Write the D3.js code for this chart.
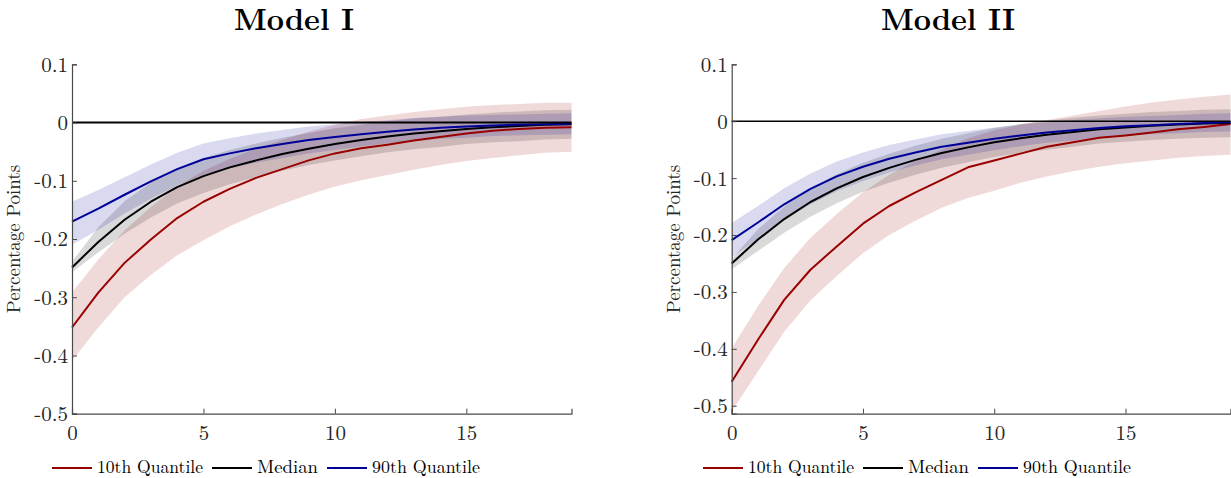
<!DOCTYPE html>
<html><head><meta charset="utf-8">
<script src="https://cdn.jsdelivr.net/npm/d3@7"></script>
<style>
body{margin:0;background:#fff}svg{display:block}
.cm{font-family:"Latin Modern Roman","Liberation Serif",serif;}
.ttl{font-family:"Latin Modern Roman","DejaVu Serif",serif;font-weight:bold;}
</style>
</head><body>
<svg id="chart" width="1231" height="478"></svg>
<script>
// ---- data ----
const horizons = d3.range(0, 20);
const panelTitles = ["Model I", "Model II"];
const yTicks = [0.1, 0, -0.1, -0.2, -0.3, -0.4, -0.5];
const yTickLabels = ["0.1", "0", "-0.1", "-0.2", "-0.3", "-0.4", "-0.5"];
const xTicks = [0, 5, 10, 15];
const xTickLabels = ["0", "5", "10", "15"];
const yDomainI = [-0.5, 0.1];
const yDomainII = [-0.514, 0.1];
const legendLabels = ["10th Quantile", "Median", "90th Quantile"];
const yLabel = "Percentage Points";

// Model I
const q10_I   = [-0.352,-0.292,-0.241,-0.201,-0.164,-0.136,-0.114,-0.095,-0.080,-0.065,-0.053,-0.044,-0.038,-0.031,-0.025,-0.019,-0.014,-0.011,-0.009,-0.008];
const q10Up_I = [-0.292,-0.235,-0.185,-0.145,-0.110,-0.083,-0.062,-0.045,-0.030,-0.016,-0.004,0.006,0.012,0.018,0.023,0.027,0.030,0.032,0.034,0.034];
const q10Lo_I = [-0.409,-0.352,-0.300,-0.262,-0.228,-0.202,-0.178,-0.158,-0.140,-0.124,-0.110,-0.099,-0.090,-0.081,-0.073,-0.066,-0.061,-0.056,-0.052,-0.050];
const med_I   = [-0.249,-0.205,-0.167,-0.136,-0.111,-0.092,-0.077,-0.065,-0.054,-0.045,-0.037,-0.030,-0.024,-0.019,-0.015,-0.011,-0.008,-0.006,-0.004,-0.003];
const medUp_I = [-0.239,-0.180,-0.135,-0.103,-0.079,-0.061,-0.047,-0.036,-0.026,-0.018,-0.010,-0.004,0.002,0.007,0.010,0.014,0.017,0.019,0.021,0.022];
const medLo_I = [-0.257,-0.223,-0.191,-0.163,-0.139,-0.121,-0.106,-0.094,-0.083,-0.073,-0.065,-0.058,-0.051,-0.046,-0.042,-0.037,-0.034,-0.032,-0.029,-0.028];
const q90_I   = [-0.170,-0.148,-0.124,-0.101,-0.080,-0.063,-0.053,-0.044,-0.037,-0.030,-0.025,-0.020,-0.016,-0.012,-0.009,-0.007,-0.005,-0.004,-0.003,-0.002];
const q90Up_I = [-0.136,-0.116,-0.094,-0.072,-0.052,-0.036,-0.027,-0.019,-0.013,-0.007,-0.003,0.001,0.004,0.008,0.010,0.012,0.013,0.014,0.015,0.016];
const q90Lo_I = [-0.210,-0.184,-0.156,-0.131,-0.108,-0.090,-0.079,-0.069,-0.061,-0.053,-0.047,-0.041,-0.036,-0.032,-0.028,-0.026,-0.023,-0.022,-0.021,-0.020];

// Model II
const q10_II   = [-0.458,-0.384,-0.314,-0.261,-0.220,-0.180,-0.149,-0.125,-0.103,-0.081,-0.069,-0.057,-0.045,-0.037,-0.029,-0.025,-0.020,-0.014,-0.010,-0.005];
const q10Up_II = [-0.399,-0.325,-0.258,-0.205,-0.163,-0.125,-0.094,-0.070,-0.050,-0.030,-0.016,-0.006,0.002,0.010,0.018,0.026,0.033,0.038,0.043,0.047];
const q10Lo_II = [-0.510,-0.440,-0.370,-0.315,-0.272,-0.232,-0.200,-0.175,-0.152,-0.135,-0.122,-0.108,-0.097,-0.088,-0.080,-0.074,-0.069,-0.064,-0.061,-0.059];
const med_II   = [-0.250,-0.208,-0.172,-0.142,-0.118,-0.098,-0.082,-0.068,-0.056,-0.046,-0.037,-0.030,-0.024,-0.019,-0.014,-0.011,-0.008,-0.006,-0.004,-0.003];
const medUp_II = [-0.242,-0.190,-0.150,-0.118,-0.093,-0.073,-0.057,-0.043,-0.031,-0.021,-0.012,-0.005,0.001,0.006,0.010,0.013,0.016,0.018,0.020,0.021];
const medLo_II = [-0.260,-0.228,-0.196,-0.168,-0.144,-0.124,-0.108,-0.094,-0.082,-0.072,-0.063,-0.056,-0.050,-0.045,-0.039,-0.036,-0.033,-0.031,-0.029,-0.028];
const q90_II   = [-0.209,-0.178,-0.146,-0.119,-0.097,-0.080,-0.066,-0.055,-0.045,-0.038,-0.031,-0.025,-0.020,-0.016,-0.012,-0.009,-0.007,-0.005,-0.003,-0.002];
const q90Up_II = [-0.179,-0.149,-0.118,-0.092,-0.071,-0.055,-0.042,-0.032,-0.023,-0.017,-0.011,-0.006,-0.002,0.002,0.005,0.008,0.009,0.011,0.013,0.014];
const q90Lo_II = [-0.239,-0.207,-0.174,-0.146,-0.123,-0.105,-0.090,-0.078,-0.067,-0.059,-0.051,-0.044,-0.038,-0.034,-0.029,-0.026,-0.023,-0.021,-0.019,-0.018];

// ---- styles ----
const colors = ["#990000", "#000000", "#000099"];

const panels = [
  { title: panelTitles[0], yDomain: yDomainI, left: 72, right: 571.5, titleX: 294, zeroW: 2,
    series: [[q10_I,q10Lo_I,q10Up_I],[med_I,medLo_I,medUp_I],[q90_I,q90Lo_I,q90Up_I]], legendX: 52 },
  { title: panelTitles[1], yDomain: yDomainII, left: 731.7, right: 1230.5, titleX: 948, zeroW: 1.5,
    series: [[q10_II,q10Lo_II,q10Up_II],[med_II,medLo_II,medUp_II],[q90_II,q90Lo_II,q90Up_II]], legendX: 703 }
];
const plotTop = 64.3, plotBottom = 413.7;
const svg = d3.select("#chart");

panels.forEach(p => {
  const x = d3.scaleLinear().domain([0, 19]).range([p.left, p.right]);
  const y = d3.scaleLinear().domain(p.yDomain).range([plotBottom, plotTop]);
  const g = svg.append("g");

  // bands
  p.series.forEach((s, i) => {
    const area = d3.area().x((d, j) => x(horizons[j])).y0((d, j) => y(s[1][j])).y1((d, j) => y(s[2][j]));
    g.append("path").datum(s[0]).attr("d", area)
      .attr("fill", colors[i]).attr("fill-opacity", 0.15).attr("stroke", "none");
  });
  // lines
  p.series.forEach((s, i) => {
    const line = d3.line().x((d, j) => x(horizons[j])).y(d => y(d));
    g.append("path").datum(s[0]).attr("d", line)
      .attr("fill", "none").attr("stroke", colors[i]).attr("stroke-width", 2).attr("stroke-linejoin", "round");
  });
  // zero line
  g.append("line").attr("x1", x(0)).attr("x2", x(19)).attr("y1", y(0)).attr("y2", y(0))
    .attr("stroke", "#000").attr("stroke-width", p.zeroW);

  // axes
  const yAxis = d3.axisLeft(y).tickValues(yTicks).tickFormat((d, i) => yTickLabels[i]).tickSize(-5).tickPadding(4);
  const ya = g.append("g").attr("transform", `translate(${p.left},0)`).call(yAxis);
  const xAxis = d3.axisBottom(x).tickValues(xTicks).tickFormat((d, i) => xTickLabels[i]).tickSize(-5).tickPadding(11);
  const xa = g.append("g").attr("transform", `translate(0,${plotBottom})`).call(xAxis);
  [ya, xa].forEach(a => {
    a.attr("font-family", null).attr("font-size", null);
    a.select(".domain").attr("stroke", "#4a4a4a").attr("stroke-width", 1.2);
    a.selectAll(".tick line").attr("stroke", "#4a4a4a");
    a.selectAll("text").attr("class", "cm").style("font-size", "21px").attr("fill", "#262626");
  });
  ya.selectAll("text").attr("dy", "0.33em");

  // y label
  g.append("text").attr("class", "cm")
    .attr("transform", `translate(${p.left - 52},${(plotTop + plotBottom) / 2}) rotate(-90)`)
    .attr("text-anchor", "middle").style("font-size", "19px")
    .attr("fill", "#262626").text(yLabel);

  // title
  g.append("text").attr("class", "ttl").attr("x", p.titleX).attr("y", 29.5).attr("text-anchor", "middle")
    .style("font-size", "30px").attr("fill", "#000").text(p.title);

  // legend
  const legendWidths = [106, 61, 108];
  let lx = p.legendX;
  legendLabels.forEach((lab, i) => {
    g.append("line").attr("x1", lx).attr("x2", lx + 40).attr("y1", 468).attr("y2", 468)
      .attr("stroke", colors[i]).attr("stroke-width", 2);
    g.append("text").attr("class", "cm").attr("x", lx + 45).attr("y", 473).style("font-size", "18px")
      .attr("fill", "#000").attr("textLength", legendWidths[i]).attr("lengthAdjust", "spacingAndGlyphs").text(lab);
    lx += 45 + legendWidths[i] + 9;
  });
});
</script>
</body></html>
